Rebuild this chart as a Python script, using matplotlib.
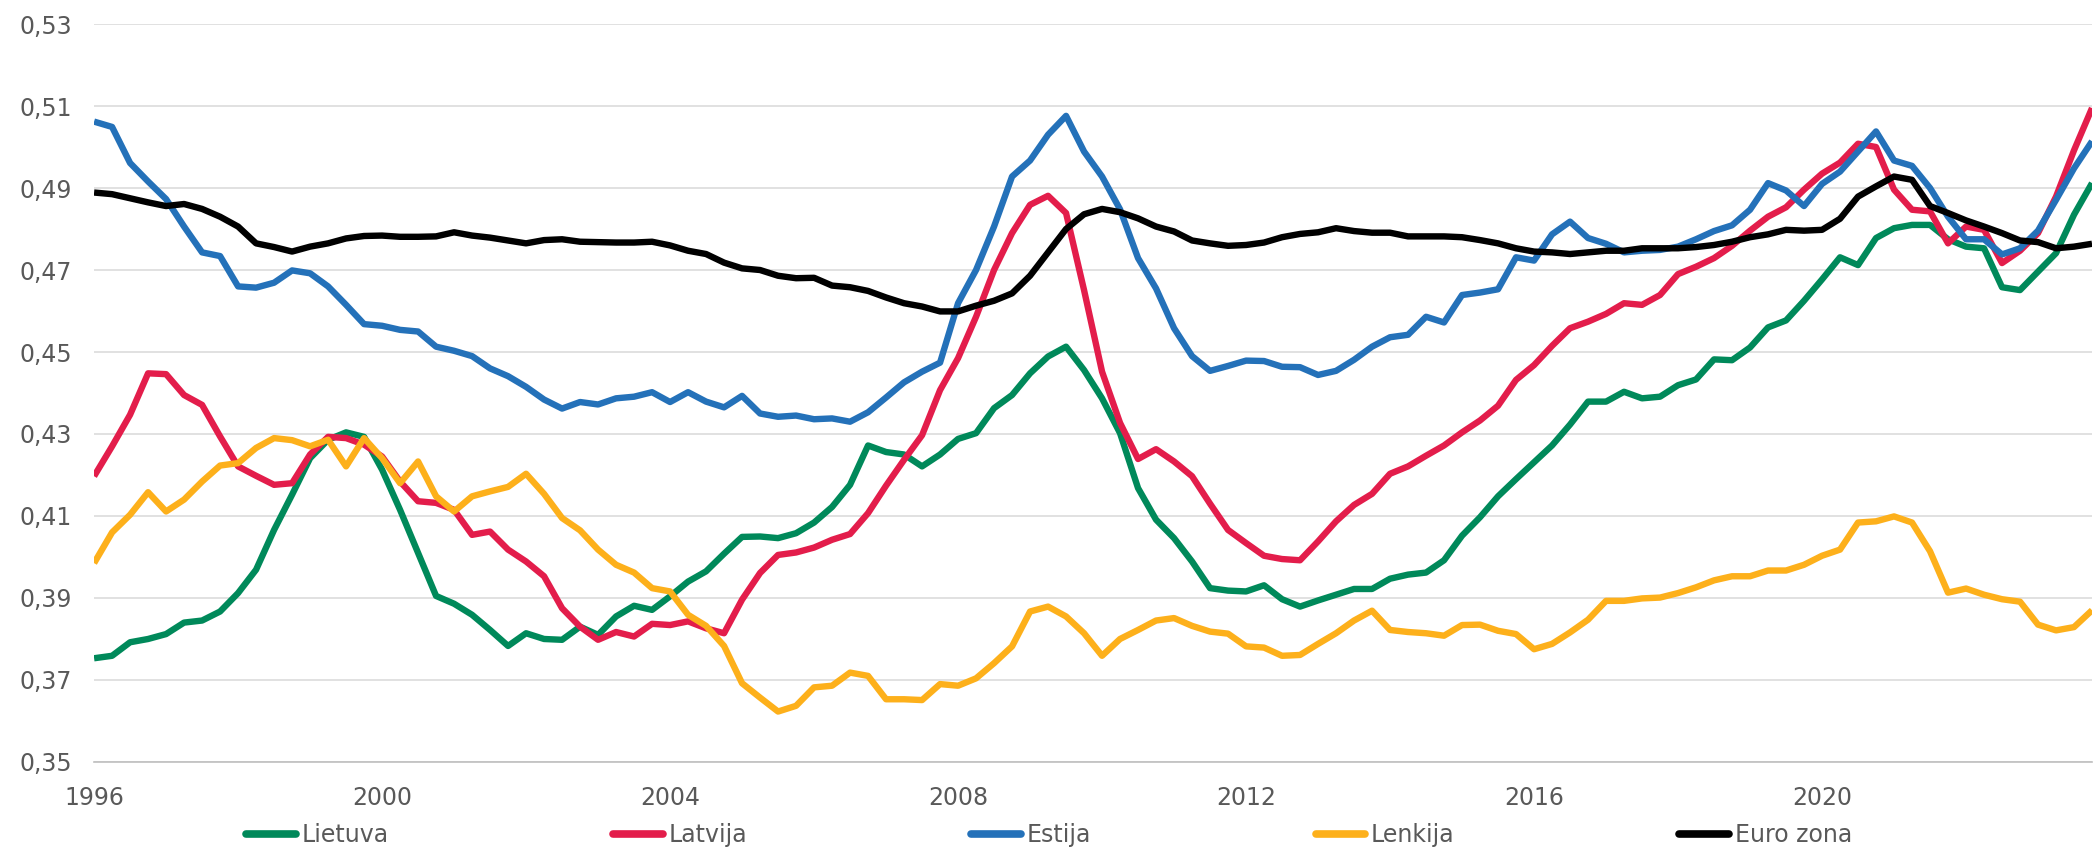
import matplotlib
matplotlib.use("Agg")
import matplotlib.pyplot as plt
import numpy as np

# Quarterly data 1996Q1 .. 2023Q4
year_labels = ["1996", "2000", "2004", "2008", "2012", "2016", "2020"]

lietuva = [
    0.3753, 0.3759, 0.3792, 0.3800, 0.3812, 0.3840, 0.3845, 0.3867, 0.3912, 0.3969,
    0.4066, 0.4152, 0.4241, 0.4286, 0.4304, 0.4293, 0.4213, 0.4115, 0.4010, 0.3905,
    0.3886, 0.3859, 0.3822, 0.3783, 0.3814, 0.3800, 0.3798, 0.3830, 0.3810, 0.3855,
    0.3881, 0.3871, 0.3904, 0.3940, 0.3965, 0.4008, 0.4049, 0.4050, 0.4046, 0.4058,
    0.4084, 0.4122, 0.4176, 0.4272, 0.4256, 0.4250, 0.4221, 0.4250, 0.4288, 0.4302,
    0.4363, 0.4395, 0.4448, 0.4489, 0.4513, 0.4456, 0.4387, 0.4302, 0.4168, 0.4091,
    0.4046, 0.3989, 0.3924, 0.3918, 0.3916, 0.3931, 0.3897, 0.3879, 0.3894, 0.3908,
    0.3922, 0.3922, 0.3947, 0.3957, 0.3962, 0.3992, 0.4052, 0.4097, 0.4148, 0.4190,
    0.4231, 0.4272, 0.4323, 0.4379, 0.4379, 0.4403, 0.4387, 0.4391, 0.4419, 0.4433,
    0.4482, 0.4480, 0.4511, 0.4560, 0.4577, 0.4625, 0.4677, 0.4731, 0.4712, 0.4778,
    0.4802, 0.4810, 0.4810, 0.4775, 0.4757, 0.4753, 0.4658, 0.4651, 0.4696, 0.4741,
    0.4835, 0.4912,
]

latvija = [
    0.4197, 0.4270, 0.4347, 0.4448, 0.4446, 0.4395, 0.4371, 0.4294, 0.4221, 0.4198,
    0.4176, 0.4180, 0.4250, 0.4293, 0.4290, 0.4274, 0.4245, 0.4184, 0.4136, 0.4132,
    0.4115, 0.4054, 0.4062, 0.4018, 0.3989, 0.3953, 0.3875, 0.3830, 0.3798, 0.3817,
    0.3806, 0.3837, 0.3834, 0.3843, 0.3826, 0.3814, 0.3896, 0.3961, 0.4005, 0.4011,
    0.4023, 0.4042, 0.4056, 0.4107, 0.4174, 0.4237, 0.4297, 0.4407, 0.4485, 0.4586,
    0.4700, 0.4790, 0.4859, 0.4881, 0.4839, 0.4651, 0.4452, 0.4327, 0.4239, 0.4263,
    0.4233, 0.4197, 0.4130, 0.4066, 0.4034, 0.4003, 0.3995, 0.3992, 0.4038, 0.4087,
    0.4127, 0.4154, 0.4203, 0.4221, 0.4247, 0.4272, 0.4304, 0.4333, 0.4369, 0.4432,
    0.4468, 0.4515, 0.4558, 0.4574, 0.4593, 0.4619, 0.4615, 0.4639, 0.4690, 0.4708,
    0.4729, 0.4759, 0.4796, 0.4830, 0.4853, 0.4896, 0.4935, 0.4962, 0.5008, 0.5000,
    0.4896, 0.4847, 0.4843, 0.4765, 0.4806, 0.4798, 0.4717, 0.4747, 0.4790, 0.4879,
    0.4992, 0.5095,
]

estija = [
    0.5062, 0.5049, 0.4961, 0.4916, 0.4873, 0.4806, 0.4743, 0.4734, 0.4660, 0.4657,
    0.4669, 0.4699, 0.4692, 0.4660, 0.4615, 0.4568, 0.4564, 0.4554, 0.4550, 0.4513,
    0.4503, 0.4490, 0.4460, 0.4441, 0.4415, 0.4384, 0.4362, 0.4378, 0.4372, 0.4387,
    0.4391, 0.4402, 0.4378, 0.4402, 0.4379, 0.4365, 0.4393, 0.4350, 0.4342, 0.4345,
    0.4336, 0.4338, 0.4330, 0.4353, 0.4389, 0.4426, 0.4452, 0.4474, 0.4619, 0.4700,
    0.4806, 0.4928, 0.4967, 0.5030, 0.5076, 0.4989, 0.4928, 0.4848, 0.4729, 0.4655,
    0.4558, 0.4490, 0.4454, 0.4466, 0.4479, 0.4478, 0.4464, 0.4463, 0.4444, 0.4454,
    0.4481, 0.4513, 0.4536, 0.4542, 0.4586, 0.4572, 0.4639, 0.4645, 0.4653, 0.4731,
    0.4723, 0.4787, 0.4818, 0.4778, 0.4764, 0.4743, 0.4747, 0.4749, 0.4757, 0.4775,
    0.4795, 0.4809, 0.4847, 0.4912, 0.4894, 0.4856, 0.4910, 0.4940, 0.4989, 0.5038,
    0.4967, 0.4954, 0.4900, 0.4830, 0.4775, 0.4775, 0.4738, 0.4753, 0.4796, 0.4871,
    0.4948, 0.5014,
]

lenkija = [
    0.3985, 0.4060, 0.4103, 0.4158, 0.4111, 0.4140, 0.4184, 0.4223, 0.4229, 0.4266,
    0.4290, 0.4285, 0.4270, 0.4286, 0.4221, 0.4290, 0.4241, 0.4180, 0.4233, 0.4148,
    0.4111, 0.4148, 0.4160, 0.4171, 0.4203, 0.4154, 0.4095, 0.4065, 0.4018, 0.3981,
    0.3962, 0.3924, 0.3916, 0.3859, 0.3832, 0.3783, 0.3692, 0.3657, 0.3623, 0.3637,
    0.3682, 0.3686, 0.3718, 0.3710, 0.3653, 0.3653, 0.3651, 0.3690, 0.3686, 0.3704,
    0.3741, 0.3782, 0.3867, 0.3879, 0.3855, 0.3814, 0.3759, 0.3800, 0.3822, 0.3845,
    0.3851, 0.3832, 0.3818, 0.3813, 0.3782, 0.3779, 0.3759, 0.3761, 0.3788, 0.3814,
    0.3845, 0.3869, 0.3822, 0.3817, 0.3814, 0.3808, 0.3834, 0.3835, 0.3820, 0.3812,
    0.3775, 0.3788, 0.3816, 0.3847, 0.3893, 0.3893, 0.3899, 0.3901, 0.3912, 0.3926,
    0.3943, 0.3953, 0.3953, 0.3967, 0.3967, 0.3981, 0.4003, 0.4018, 0.4084, 0.4087,
    0.4099, 0.4084, 0.4014, 0.3913, 0.3923, 0.3908, 0.3897, 0.3891, 0.3835, 0.3821,
    0.3829, 0.3870,
]

euro_zona = [
    0.4889, 0.4885, 0.4875, 0.4865, 0.4856, 0.4861, 0.4849, 0.4830, 0.4806, 0.4765,
    0.4756, 0.4745, 0.4757, 0.4765, 0.4777, 0.4783, 0.4784, 0.4781, 0.4781, 0.4782,
    0.4792, 0.4784, 0.4779, 0.4772, 0.4765, 0.4773, 0.4775, 0.4769, 0.4768, 0.4767,
    0.4767, 0.4769, 0.4760, 0.4747, 0.4739, 0.4718, 0.4704, 0.4700, 0.4686, 0.4680,
    0.4681, 0.4662, 0.4658, 0.4649, 0.4633, 0.4619, 0.4611, 0.4599, 0.4599, 0.4613,
    0.4625, 0.4643, 0.4686, 0.4743, 0.4800, 0.4836, 0.4849, 0.4841, 0.4826, 0.4806,
    0.4794, 0.4772, 0.4765, 0.4759, 0.4761, 0.4767, 0.4780, 0.4788, 0.4792, 0.4802,
    0.4795, 0.4791, 0.4791, 0.4782, 0.4782, 0.4782, 0.4780, 0.4773, 0.4765, 0.4753,
    0.4745, 0.4743, 0.4739, 0.4743, 0.4747, 0.4747, 0.4753, 0.4753, 0.4753, 0.4756,
    0.4761, 0.4769, 0.4780, 0.4787, 0.4798, 0.4796, 0.4798, 0.4825, 0.4879, 0.4904,
    0.4928, 0.4920, 0.4856, 0.4839, 0.4821, 0.4806, 0.4790, 0.4772, 0.4768, 0.4753,
    0.4757, 0.4764,
]

series_names = ["Lietuva", "Latvija", "Estija", "Lenkija", "Euro zona"]
series_values = [lietuva, latvija, estija, lenkija, euro_zona]
series_colors = ["#00895A", "#E31D4B", "#2471B9", "#FDB01B", "#000000"]

y_ticks = [0.35, 0.37, 0.39, 0.41, 0.43, 0.45, 0.47, 0.49, 0.51, 0.53]

plt.rcParams['font.family'] = ['DejaVu Sans']
fig = plt.figure(figsize=(21, 8.49), dpi=100)
ax = fig.add_axes([0.0448, 0.1025, 0.9514, 0.8692])

n = len(lietuva)
x = np.arange(n)
for name, vals, col in zip(series_names, series_values, series_colors):
    ax.plot(x, vals, color=col, lw=4.6, label=name,
            solid_joinstyle='round', solid_capstyle='butt')

ax.set_xlim(0, n - 1)
ax.set_ylim(0.35, 0.53)
ax.set_yticks(y_ticks)
ax.set_yticklabels([f"{v:.2f}".replace(".", ",") for v in y_ticks])
ax.set_xticks(np.arange(0, n, 16)[:len(year_labels)])
ax.set_xticklabels(year_labels)

ax.grid(axis='y', color='#D9D9D9', lw=1.1)
ax.set_axisbelow(True)
for s in ['top', 'right', 'left']:
    ax.spines[s].set_visible(False)
ax.spines['bottom'].set_color('#BFBFBF')
ax.spines['bottom'].set_linewidth(1.2)
ax.tick_params(axis='both', length=0, labelsize=17, labelcolor='#595959')
ax.tick_params(axis='y', pad=16)
ax.tick_params(axis='x', pad=17)

leg = fig.legend(loc='center', bbox_to_anchor=(0.4995, 0.0165), ncol=5,
                 frameon=False, fontsize=17, handlelength=2.1,
                 handletextpad=0.25, columnspacing=9.5, borderpad=0,
                 borderaxespad=0)
for h in leg.get_lines():
    h.set_linewidth(5.5)
    h.set_solid_capstyle('round')
for t in leg.get_texts():
    t.set_color('#595959')

fig.savefig("out.png", dpi=100)
